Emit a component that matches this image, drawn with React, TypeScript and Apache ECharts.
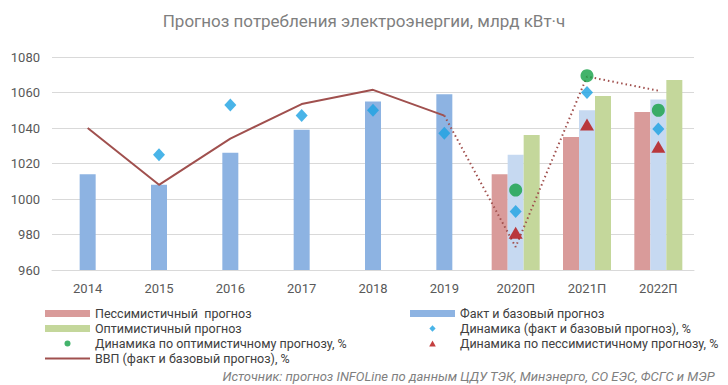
import React, { useEffect, useRef } from "react";
import * as echarts from "echarts";

const categories = ["2014", "2015", "2016", "2017", "2018", "2019", "2020П", "2021П", "2022П"];
const factBase = [1014, 1008, 1026, 1039, 1055, 1059, 1025, 1050, 1056];
const forecastFlags = [false, false, false, false, false, false, true, true, true];
const pessimistic = [null, null, null, null, null, null, 1014, 1035, 1049];
const optimistic = [null, null, null, null, null, null, 1036, 1058, 1067];
const dynFactBase = [null, 1025, 1053, 1047, 1050, 1037, 993, 1060, 1039.5];
const dynOptimistic = [null, null, null, null, null, null, 1005, 1069.5, 1050];
const dynPessimistic = [null, null, null, null, null, null, 981, 1042, 1029.5];
const gdpFact = [1040, 1008, 1034, 1053.5, 1061.5, 1047, null, null, null];
const gdpForecast = [null, null, null, null, null, 1047, 973, 1069, 1061];
const yTicks = { min: 960, max: 1080, interval: 20 };

const FONT = "Roboto";
const GRAY = "#595959";

const BOX = "M0,0M45,7";
const ICON_CIRCLE = "path://" + BOX + "M25.5,3.5A3,3 0 1 1 19.5,3.5A3,3 0 1 1 25.5,3.5Z";
const ICON_DIAMOND = "path://" + BOX + "M22.5,0.2L25.6,3.5L22.5,6.8L19.4,3.5Z";
const ICON_TRIANGLE = "path://" + BOX + "M22.5,0.5L25.8,6.5L19.2,6.5Z";
const ICON_LINE = "path://" + BOX + "M0,2.5L45,2.5L45,4.5L0,4.5Z";

export default function App() {
  const ref = useRef<HTMLDivElement>(null);
  useEffect(() => {
    if (!ref.current) return;
    const chart = echarts.init(ref.current, null, { renderer: "svg" });
    const legendText = { fontFamily: FONT, fontSize: 12.5, color: "#404040", lineHeight: 15 };
    chart.setOption({
      animation: false,
      backgroundColor: "#ffffff",
      textStyle: { fontFamily: FONT },
      title: {
        text: "Прогноз потребления электроэнергии, млрд кВт·ч",
        left: "center",
        top: 7,
        textStyle: { fontFamily: FONT, fontSize: 17, fontWeight: "normal", color: "#7F7F7F" },
      },
      grid: { left: 52, right: 34, top: 57, bottom: 115 },
      legend: [
        {
          orient: "vertical",
          left: 45,
          top: 306,
          itemWidth: 45,
          itemHeight: 7,
          itemGap: 0,
          padding: 0,
          textStyle: legendText,
          data: [
            { name: "Пессимистичный  прогноз", icon: "rect" },
            { name: "Оптимистичный прогноз", icon: "rect" },
            { name: "Динамика по оптимистичному прогнозу, %", icon: ICON_CIRCLE },
            { name: "ВВП (факт и базовый прогноз), %", icon: ICON_LINE },
          ],
        },
        {
          orient: "vertical",
          left: 410,
          top: 306,
          itemWidth: 45,
          itemHeight: 7,
          itemGap: 0,
          padding: 0,
          textStyle: legendText,
          data: [
            { name: "Факт и базовый прогноз", icon: "rect" },
            { name: "Динамика (факт и базовый прогноз), %", icon: ICON_DIAMOND },
            { name: "Динамика по пессимистичному прогнозу, %", icon: ICON_TRIANGLE },
          ],
        },
      ],
      xAxis: {
        type: "category",
        data: categories,
        axisLine: { lineStyle: { color: "#D9D9D9" } },
        axisTick: { show: false },
        axisLabel: { color: GRAY, fontSize: 13, fontFamily: FONT, margin: 12 },
      },
      yAxis: {
        type: "value",
        min: yTicks.min,
        max: yTicks.max,
        interval: yTicks.interval,
        axisLine: { show: false },
        axisTick: { show: false },
        splitLine: { lineStyle: { color: "#D9D9D9" } },
        axisLabel: {
          color: GRAY,
          fontSize: 13,
          fontFamily: FONT,
          margin: 12,
          formatter: (v: number) => String(v),
        },
      },
      series: [
        {
          name: "Пессимистичный  прогноз",
          type: "bar",
          data: pessimistic,
          barWidth: 16,
          barGap: "0%",
          itemStyle: { color: "#D99B9A" },
        },
        {
          name: "Факт и базовый прогноз",
          type: "bar",
          data: factBase.map((v, i) => ({
            value: v,
            itemStyle: { color: forecastFlags[i] ? "#C6D9F1" : "#8DB3E2" },
          })),
          barWidth: 16,
          barGap: "0%",
          itemStyle: { color: "#8DB3E2" },
        },
        {
          name: "Оптимистичный прогноз",
          type: "bar",
          data: optimistic,
          barWidth: 16,
          barGap: "0%",
          itemStyle: { color: "#C4D79B" },
        },
        {
          name: "ВВП (факт и базовый прогноз), %",
          type: "line",
          data: gdpFact,
          symbol: "none",
          lineStyle: { color: "#A0504E", width: 2 },
          itemStyle: { color: "#A0504E" },
          z: 3,
        },
        {
          name: "ВВП прогноз",
          type: "line",
          data: gdpForecast,
          symbol: "none",
          lineStyle: { color: "#A0504E", width: 2, type: [1.5, 3] },
          z: 3,
        },
        {
          name: "Динамика (факт и базовый прогноз), %",
          type: "scatter",
          data: dynFactBase,
          symbol: "diamond",
          symbolSize: [12, 13],
          itemStyle: { color: "#1BA1E2" },
          z: 5,
        },
        {
          name: "Динамика по оптимистичному прогнозу, %",
          type: "scatter",
          data: dynOptimistic,
          symbol: "circle",
          symbolSize: 13,
          itemStyle: { color: "#14A046" },
          z: 5,
        },
        {
          name: "Динамика по пессимистичному прогнозу, %",
          type: "scatter",
          data: dynPessimistic,
          symbol: "triangle",
          symbolSize: [14, 12],
          itemStyle: { color: "#B50F0F" },
          z: 5,
        },
      ],
      graphic: [
        {
          type: "text",
          right: 13,
          top: 370,
          style: {
            text: "Источник: прогноз INFOLine по данным ЦДУ ТЭК, Минэнерго, СО ЕЭС, ФСГС и МЭР",
            fontFamily: FONT,
            fontSize: 13,
            fontStyle: "italic",
            fill: "#7F7F7F",
          },
        },
      ],
    });
    return () => chart.dispose();
  }, []);
  return (
    <div
      ref={ref}
      style={{ position: "fixed", left: 0, top: 0, width: 728, height: 385 }}
    />
  );
}
